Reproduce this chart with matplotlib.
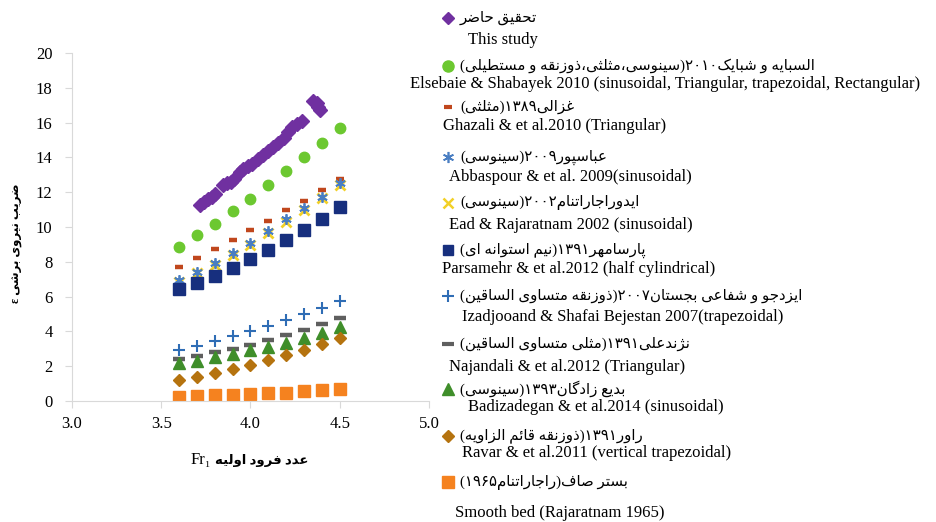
import numpy as np
import matplotlib.pyplot as plt

plt.rcParams['font.family'] = ['Liberation Serif', 'DejaVu Sans']

# Froude number of the compared data sets
fr = [3.6, 3.7, 3.8, 3.9, 4.0, 4.1, 4.2, 4.3, 4.4, 4.5]
elsebaie = [8.83, 9.52, 10.17, 10.90, 11.63, 12.43, 13.20, 14.02, 14.84, 15.71]
ghazali = [7.72, 8.20, 8.72, 9.24, 9.81, 10.34, 10.96, 11.51, 12.13, 12.74]
abbaspour = [6.95, 7.43, 7.91, 8.49, 9.10, 9.79, 10.44, 11.07, 11.74, 12.51]
ead = [6.86, 7.34, 7.82, 8.39, 8.97, 9.64, 10.30, 10.98, 11.65, 12.41]
parsamehr = [6.42, 6.80, 7.18, 7.63, 8.14, 8.68, 9.25, 9.83, 10.48, 11.17]
izadjoo = [2.93, 3.14, 3.43, 3.72, 4.02, 4.33, 4.66, 4.98, 5.34, 5.75]
najandali = [2.43, 2.59, 2.80, 3.01, 3.22, 3.49, 3.79, 4.08, 4.41, 4.75]
badizadegan = [2.17, 2.30, 2.51, 2.68, 2.91, 3.10, 3.33, 3.60, 3.91, 4.27]
ravar = [1.21, 1.38, 1.59, 1.84, 2.09, 2.37, 2.64, 2.95, 3.26, 3.60]
smooth_bed = [0.25, 0.29, 0.33, 0.36, 0.40, 0.44, 0.48, 0.56, 0.61, 0.67]

# this study (own measurements)
study_fr = [3.717, 3.74, 3.762, 3.784, 3.80, 3.846, 3.868, 3.89, 3.91,
            3.94, 3.96, 3.986, 4.008, 4.04, 4.07, 4.098, 4.126, 4.154,
            4.19, 4.21, 4.23, 4.26, 4.29, 4.35, 4.37, 4.38, 4.39]
study_eps = [11.29, 11.44, 11.58, 11.75, 11.9, 12.39, 12.53, 12.61, 12.73,
             13.16, 13.33, 13.5, 13.6, 13.9, 14.14, 14.37, 14.6, 14.83,
             15.1, 15.45, 15.75, 15.9, 16.1, 17.25, 17.1, 16.9, 16.7]

# --- minimal Persian shaping (isolated, final, initial, medial) ---
FORMS = {
    'ا': ('\uFE8D', '\uFE8E', None, None),
    'ب': ('\uFE8F', '\uFE90', '\uFE91', '\uFE92'),
    'پ': ('\uFB56', '\uFB57', '\uFB58', '\uFB59'),
    'ت': ('\uFE95', '\uFE96', '\uFE97', '\uFE98'),
    'ث': ('\uFE99', '\uFE9A', '\uFE9B', '\uFE9C'),
    'ج': ('\uFE9D', '\uFE9E', '\uFE9F', '\uFEA0'),
    'ح': ('\uFEA1', '\uFEA2', '\uFEA3', '\uFEA4'),
    'د': ('\uFEA9', '\uFEAA', None, None),
    'ذ': ('\uFEAB', '\uFEAC', None, None),
    'ر': ('\uFEAD', '\uFEAE', None, None),
    'ز': ('\uFEAF', '\uFEB0', None, None),
    'ژ': ('\uFB8A', '\uFB8B', None, None),
    'س': ('\uFEB1', '\uFEB2', '\uFEB3', '\uFEB4'),
    'ش': ('\uFEB5', '\uFEB6', '\uFEB7', '\uFEB8'),
    'ص': ('\uFEB9', '\uFEBA', '\uFEBB', '\uFEBC'),
    'ض': ('\uFEBD', '\uFEBE', '\uFEBF', '\uFEC0'),
    'ط': ('\uFEC1', '\uFEC2', '\uFEC3', '\uFEC4'),
    'ع': ('\uFEC9', '\uFECA', '\uFECB', '\uFECC'),
    'غ': ('\uFECD', '\uFECE', '\uFECF', '\uFED0'),
    'ف': ('\uFED1', '\uFED2', '\uFED3', '\uFED4'),
    'ق': ('\uFED5', '\uFED6', '\uFED7', '\uFED8'),
    'ک': ('\uFB8E', '\uFB8F', '\uFB90', '\uFB91'),
    'گ': ('\uFB92', '\uFB93', '\uFB94', '\uFB95'),
    'ل': ('\uFEDD', '\uFEDE', '\uFEDF', '\uFEE0'),
    'م': ('\uFEE1', '\uFEE2', '\uFEE3', '\uFEE4'),
    'ن': ('\uFEE5', '\uFEE6', '\uFEE7', '\uFEE8'),
    'ه': ('\uFEE9', '\uFEEA', '\uFEEB', '\uFEEC'),
    'و': ('\uFEED', '\uFEEE', None, None),
    'ی': ('\uFBFC', '\uFBFD', '\uFBFE', '\uFBFF'),
    'ئ': ('\uFE89', '\uFE8A', '\uFE8B', '\uFE8C'),
}
LTR = set('0123456789۰۱۲۳۴۵۶۷۸۹') | set('abcdefghijklmnopqrstuvwxyzABCDEFGHIJKLMNOPQRSTUVWXYZ.₁ε')
MIRROR = {'(': ')', ')': '('}


def shape(s):
    out = []
    for i, c in enumerate(s):
        if c not in FORMS:
            out.append(c)
            continue
        prev = s[i - 1] if i > 0 else ''
        nxt = s[i + 1] if i + 1 < len(s) else ''
        j_prev = prev in FORMS and FORMS[prev][2] is not None
        j_next = FORMS[c][2] is not None and nxt in FORMS
        iso, fin, ini, med = FORMS[c]
        if j_prev and j_next:
            out.append(med)
        elif j_prev:
            out.append(fin)
        elif j_next:
            out.append(ini)
        else:
            out.append(iso)
    return ''.join(out)


def fa(s):
    # shape, then lay out right-to-left keeping digit/latin runs in order
    s = shape(s)
    runs, cur, cur_ltr = [], '', None
    for c in s:
        is_ltr = c in LTR
        if cur and is_ltr != cur_ltr:
            runs.append((cur, cur_ltr))
            cur = ''
        cur += c
        cur_ltr = is_ltr
    if cur:
        runs.append((cur, cur_ltr))
    vis = ''
    for text, is_ltr in reversed(runs):
        if is_ltr:
            vis += text
        else:
            vis += ''.join(MIRROR.get(c, c) for c in reversed(text))
    return vis


fig = plt.figure(figsize=(9.37, 5.22), dpi=100)
ax = fig.add_axes([0.0768, 0.2318, 0.381, 0.6667])

ax.plot(study_fr, study_eps, 'D', color='#7030A0', ms=7.5, ls='none')
ax.plot(fr, elsebaie, 'o', color='#6CC830', ms=7.5, ls='none')
ax.plot(fr, ghazali, '_', color='#C0471D', ms=5.5, mew=3.2, ls='none')
ax.plot(fr, ead, 'x', color='#F2D027', ms=7, mew=2, ls='none')
ax.plot(fr, abbaspour, marker=(6, 2, 0), color='#4A7EC2', ms=7.5, mew=1.3, ls='none')
ax.plot(fr, parsamehr, 's', color='#172F7E', ms=8, ls='none')
ax.plot(fr, izadjoo, '+', color='#2F6DB5', ms=8, mew=1.5, ls='none')
ax.plot(fr, najandali, '_', color='#5F5F5F', ms=8.5, mew=3.2, ls='none')
ax.plot(fr, badizadegan, '^', color='#3F8E2A', ms=8.5, ls='none')
ax.plot(fr, ravar, 'D', color='#B5730F', ms=6.5, ls='none')
ax.plot(fr, smooth_bed, 's', color='#F5821F', ms=8, ls='none')

ax.set_xlim(3.0, 5.0)
ax.set_ylim(0, 20)
ax.set_xticks(np.arange(3.0, 5.01, 0.5))
ax.set_xticklabels(['3.0', '3.5', '4.0', '4.5', '5.0'])
ax.set_yticks(range(0, 21, 2))
for side in ['top', 'right']:
    ax.spines[side].set_visible(False)
for side in ['left', 'bottom']:
    ax.spines[side].set_color('#D9D9D9')
ax.tick_params(axis='both', colors='#D9D9D9', labelcolor='black', labelsize=12, length=5)
ax.tick_params(axis='y', pad=9)
ax.tick_params(axis='x', pad=6)

fig.text(0.018, 0.534, fa('ضریب نیروی برشی ε'), rotation=90, ha='center', va='center',
         fontsize=8.5, fontweight='bold')
# x label: latin symbol in serif, Persian words in bold
fig.text(0.2252, 0.118, 'Fr₁', ha='right', va='center', fontsize=12)
fig.text(0.2295, 0.118, fa('عدد فرود اولیه'), ha='left', va='center', fontsize=9.5,
         fontweight='bold')

# legend drawn on an overlay in pixel units
leg = fig.add_axes([0, 0, 1, 1])
leg.set_xlim(0, 937)
leg.set_ylim(522, 0)
leg.axis('off')

entries = [
    (dict(marker='D', color='#7030A0', ms=6.5), 'تحقیق حاضر', 18, 'This study', 468, 40),
    (dict(marker='o', color='#6CC830', ms=8), 'السبایه و شبایک۲۰۱۰(سینوسی،مثلثی،ذوزنقه و مستطیلی)', 66,
     'Elsebaie & Shabayek 2010 (sinusoidal, Triangular, trapezoidal, Rectangular)', 410, 84),
    (dict(marker='_', color='#C0471D', ms=6, mew=3), 'غزالی۱۳۸۹(مثلثی)', 107,
     'Ghazali & et al.2010 (Triangular)', 443, 126),
    (dict(marker=(6, 2, 0), color='#4A7EC2', ms=8, mew=1.2), 'عباسپور۲۰۰۹(سینوسی)', 157,
     'Abbaspour & et al. 2009(sinusoidal)', 449, 177),
    (dict(marker='x', color='#F2D027', ms=7, mew=1.8), 'ایدوراجاراتنام۲۰۰۲(سینوسی)', 203,
     'Ead & Rajaratnam 2002 (sinusoidal)', 449, 225),
    (dict(marker='s', color='#172F7E', ms=7), 'پارسامهر۱۳۹۱(نیم استوانه ای)', 250,
     'Parsamehr & et al.2012 (half cylindrical)', 442, 269),
    (dict(marker='+', color='#2F6DB5', ms=9, mew=1.5), 'ایزدجو و شفاعی بجستان۲۰۰۷(ذوزنقه متساوی الساقین)', 296,
     'Izadjooand & Shafai Bejestan 2007(trapezoidal)', 462, 317),
    (dict(marker='_', color='#5F5F5F', ms=9, mew=3), 'نژندعلی۱۳۹۱(مثلی متساوی الساقین)', 344,
     'Najandali & et al.2012 (Triangular)', 449, 367),
    (dict(marker='^', color='#3F8E2A', ms=8), 'بدیع زادگان۱۳۹۳(سینوسی)', 389,
     'Badizadegan & et al.2014 (sinusoidal)', 468, 407),
    (dict(marker='D', color='#B5730F', ms=6), 'راور۱۳۹۱(ذوزنقه قائم الزاویه)', 436,
     'Ravar & et al.2011 (vertical trapezoidal)', 462, 453),
    (dict(marker='s', color='#F5821F', ms=8), 'بستر صاف(راجاراتنام۱۹۶۵)', 482,
     'Smooth bed (Rajaratnam 1965)', 455, 513),
]

for mk, fa_text, fa_y, en_text, en_x, en_y in entries:
    leg.plot([448], [fa_y], ls='none', **mk)
    leg.text(460, fa_y, fa(fa_text), ha='left', va='center', fontsize=10.8)
    leg.text(en_x, en_y, en_text, ha='left', va='center', fontsize=12)

fig.savefig('out.png', dpi=100)
